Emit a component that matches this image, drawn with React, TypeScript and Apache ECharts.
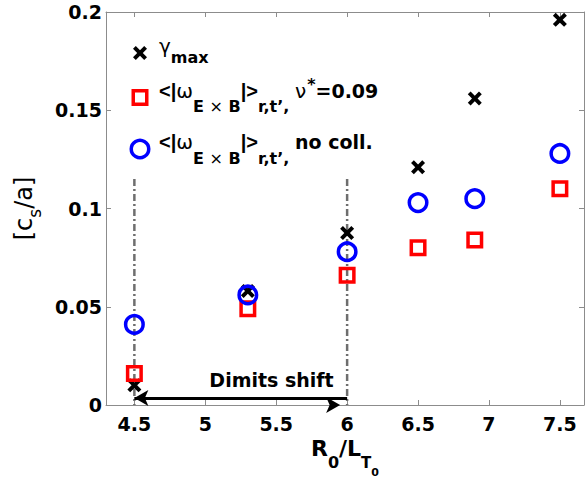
import React, { useEffect, useRef } from "react";
import * as echarts from "echarts";

// ---- data ----
const xTickValues = [4.5, 5, 5.5, 6, 6.5, 7, 7.5];
const rOverLT = [4.5, 5.3, 6, 6.5, 6.9, 7.5];
const gammaMax = [0.01, 0.058, 0.0875, 0.121, 0.156, 0.196];
const omegaColl = [0.016, 0.049, 0.066, 0.08, 0.084, 0.11];
const omegaNoColl = [0.041, 0.056, 0.078, 0.103, 0.105, 0.128];
const dimitsRange = [4.5, 6];
const dimitsLineTop = 0.115;
const arrowLevel = 0.0036;
const dimitsLabel = "Dimits shift";
const dimitsLabelAt = [5.467, 0.0127];
const xRange = [4.3, 7.67];
const yRange = [0, 0.2];
const yStep = 0.05;
const legendTexts = [
  "{g|γ}{s1|max}",
  "{ml|<|}{g|ω}{s|E }{sx|×}{s| B}{ml||>}{s|r,t’, }{g|ν}{p|*}{m|=0.09}",
  "{ml|<|}{g|ω}{s|E }{sx|×}{s| B}{ml||>}{s|r,t’, }{m|no coll.}",
];

const FONT = "DejaVu Sans";
const FONT2 = "Liberation Sans";
const CROSS = "path://M0,2L2,0L5,3L8,0L10,2L7,5L10,8L8,10L5,7L2,10L0,8L3,5Z";
const AXIS_GREY = "#8c8c8c";

export default function App() {
  const ref = useRef<HTMLDivElement>(null);
  useEffect(() => {
    document.body.style.margin = "0";
    const chart = echarts.init(ref.current!, null, { renderer: "svg" });

    const legendRich = {
      m: { fontSize: 19, fontWeight: "bold", fontFamily: FONT, color: "#000", verticalAlign: "top", padding: [4.9, 0, 0, 0] },
      ml: { fontSize: 20, fontWeight: "bold", fontFamily: FONT2, color: "#000", verticalAlign: "top", padding: [4.4, 0, 0, 0] },
      g: { fontSize: 20, fontWeight: "normal", fontFamily: FONT, color: "#000", verticalAlign: "top", padding: [4.1, 0, 0, 0] },
      s: { fontSize: 16, fontWeight: "bold", fontFamily: FONT, color: "#000", verticalAlign: "top", padding: [22.3, 0, 0, 0] },
      sx: { fontSize: 16, fontWeight: "normal", fontFamily: FONT, color: "#000", verticalAlign: "top", padding: [22.3, 0, 0, 0] },
      s1: { fontSize: 16, fontWeight: "bold", fontFamily: FONT, color: "#000", verticalAlign: "top", padding: [17.5, 0, 0, 0] },
      p: { fontSize: 16, fontWeight: "bold", fontFamily: FONT, color: "#000", verticalAlign: "top", padding: [0, 0, 0, 1] },
    };
    const rowBase = [53, 97.5, 149];
    const markerX = 140;

    const crossPts = [
      [0, 2], [2, 0], [5, 3], [8, 0], [10, 2], [7, 5], [10, 8], [8, 10], [5, 7], [2, 10], [0, 8], [3, 5],
    ].map(([a, b]) => [markerX - 7 + a * 1.4, rowBase[0] - 7 + b * 1.4]);

    const graphic: any[] = [
      { type: "polygon", shape: { points: crossPts }, style: { fill: "#000" }, silent: true },
      {
        type: "rect",
        shape: { x: markerX - 6.75, y: rowBase[1] - 6.75, width: 13.5, height: 13.5 },
        style: { fill: "none", stroke: "#ff0000", lineWidth: 3.5 },
        silent: true,
      },
      {
        type: "circle",
        shape: { cx: markerX, cy: rowBase[2], r: 8.75 },
        style: { fill: "none", stroke: "#0000ff", lineWidth: 3.5 },
        silent: true,
      },
      ...legendTexts.map((t, i) => ({
        type: "text",
        x: 159,
        y: rowBase[i] - 21,
        silent: true,
        style: {
          text: t,
          rich: legendRich,
          fontFamily: FONT,
          fill: "#000",
          align: "left",
          verticalAlign: "top",
        },
      })),
    ];

    const axisLineStyle = { color: AXIS_GREY, width: 1 };

    chart.setOption({
      animation: false,
      textStyle: { fontFamily: FONT },
      grid: { left: 106, right: 4, top: 12, bottom: 73, containLabel: false, outerBoundsMode: "none" },
      xAxis: [
        {
          type: "value",
          min: xRange[0],
          max: xRange[1],
          position: "bottom",
          axisLine: { show: true, onZero: false, lineStyle: axisLineStyle },
          axisTick: { show: true, inside: true, length: 5, customValues: xTickValues, lineStyle: axisLineStyle },
          axisLabel: {
            customValues: xTickValues,
            color: "#000",
            fontSize: 19,
            fontWeight: "bold",
            fontFamily: FONT,
            margin: 9,
            formatter: (v: number) => String(v),
          },
          splitLine: { show: false },
          name: "{R|R}{a|0}{R|/L}{b|T}{c|0}",
          nameLocation: "middle",
          nameGap: 21,
          nameTextStyle: {
            color: "#000",
            fontFamily: FONT,
            rich: {
              R: { fontSize: 22, fontWeight: "bold", fontFamily: FONT, color: "#000", verticalAlign: "top", padding: [0, 0, 0, 0] },
              a: { fontSize: 16, fontWeight: "bold", fontFamily: FONT, color: "#000", verticalAlign: "top", padding: [16.5, 0, 0, 0] },
              b: { fontSize: 15, fontWeight: "bold", fontFamily: FONT, color: "#000", verticalAlign: "top", padding: [18, 0, 0, 0] },
              c: { fontSize: 11, fontWeight: "bold", fontFamily: FONT, color: "#000", verticalAlign: "top", padding: [29.5, 0, 0, 0] },
            },
          },
        },
        {
          type: "value",
          min: xRange[0],
          max: xRange[1],
          position: "top",
          axisLine: { show: true, onZero: false, lineStyle: axisLineStyle },
          axisTick: { show: true, inside: true, length: 5, customValues: xTickValues, lineStyle: axisLineStyle },
          axisLabel: { show: false },
          splitLine: { show: false },
        },
      ],
      yAxis: [
        {
          type: "value",
          min: yRange[0],
          max: yRange[1],
          interval: yStep,
          position: "left",
          axisLine: { show: true, onZero: false, lineStyle: axisLineStyle },
          axisTick: { show: true, inside: true, length: 5, lineStyle: axisLineStyle },
          axisLabel: { color: "#000", fontSize: 19, fontWeight: "bold", fontFamily: FONT, margin: 4 },
          splitLine: { show: false },
          name: "{m|[c}{s|s}{m|/a]}",
          nameLocation: "middle",
          nameRotate: 90,
          nameGap: 63,
          nameTextStyle: {
            color: "#000",
            fontFamily: FONT,
            rich: {
              m: { fontSize: 24, fontWeight: "normal", fontFamily: FONT, color: "#000", verticalAlign: "top", padding: [0, 0, 0, 0] },
              s: { fontSize: 17, fontWeight: "normal", fontFamily: FONT, color: "#000", verticalAlign: "top", padding: [14.5, 0, 0, 0] },
            },
          },
        },
        {
          type: "value",
          min: yRange[0],
          max: yRange[1],
          interval: yStep,
          position: "right",
          axisLine: { show: true, onZero: false, lineStyle: axisLineStyle },
          axisTick: { show: true, inside: true, length: 5, lineStyle: axisLineStyle },
          axisLabel: { show: false },
          splitLine: { show: false },
        },
      ],
      series: [
        ...dimitsRange.map((x, i) => ({
          type: "line",
          name: "dimits-" + i,
          xAxisIndex: 0,
          yAxisIndex: 0,
          z: 1,
          silent: true,
          symbol: "none",
          data: [
            [x, dimitsLineTop],
            [x, 0],
          ],
          lineStyle: { color: "#6e6e6e", width: 2.5, type: [7, 3, 2, 3] },
        })),
        {
          type: "line",
          name: "arrow",
          xAxisIndex: 0,
          yAxisIndex: 0,
          z: 2,
          silent: true,
          data: [],
          markLine: {
            silent: true,
            symbol: ["arrow", "arrow"],
            symbolSize: [12, 14],
            symbolOffset: [0, 7],
            label: { show: false },
            lineStyle: { color: "#000", width: 3, type: "solid" },
            emphasis: { disabled: true },
            data: [[{ coord: [dimitsRange[0], arrowLevel] }, { coord: [dimitsRange[1], arrowLevel] }]],
          },
        },
        {
          type: "scatter",
          name: "label",
          z: 2,
          silent: true,
          symbolSize: 1,
          itemStyle: { color: "rgba(0,0,0,0)", opacity: 1 },
          data: [dimitsLabelAt],
          label: {
            show: true,
            position: "inside",
            formatter: dimitsLabel,
            fontSize: 19,
            fontWeight: "bold",
            fontFamily: FONT,
            color: "#000",
            opacity: 1,
            textBorderWidth: 0,
          },
        },
        {
          type: "scatter",
          name: "gamma_max",
          z: 3,
          silent: true,
          symbol: CROSS,
          symbolSize: 14,
          itemStyle: { color: "#000", opacity: 1 },
          data: rOverLT.map((x, i) => [x, gammaMax[i]]),
        },
        {
          type: "scatter",
          name: "omega_coll",
          z: 4,
          silent: true,
          symbol: "rect",
          symbolSize: 13.5,
          itemStyle: { color: "rgba(0,0,0,0)", borderColor: "#ff0000", borderWidth: 3.5, opacity: 1 },
          data: rOverLT.map((x, i) => [x, omegaColl[i]]),
        },
        {
          type: "scatter",
          name: "omega_nocoll",
          z: 5,
          silent: true,
          symbol: "circle",
          symbolSize: 17.5,
          itemStyle: { color: "rgba(0,0,0,0)", borderColor: "#0000ff", borderWidth: 3.5, opacity: 1 },
          data: rOverLT.map((x, i) => [x, omegaNoColl[i]]),
        },
      ],
      graphic,
    });
    return () => chart.dispose();
  }, []);
  return <div ref={ref} style={{ width: 588, height: 478 }} />;
}
